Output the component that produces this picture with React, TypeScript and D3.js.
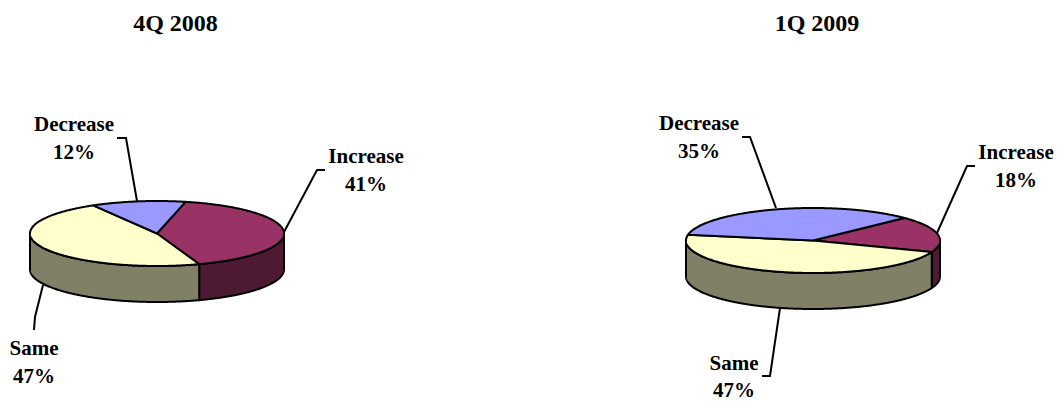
import React from "react";
import * as d3 from "d3";

const categories = ["Increase", "Same", "Decrease"];
const values2008 = [41, 47, 12];
const values2009 = [18, 47, 35];
const topColors = ["#993366", "#ffffcc", "#9999ff"];
const sideColors = ["#4d1933", "#808066", "#4d4d80"];

const WIDTH = 1060;
const HEIGHT = 401;
const RX = 127;
const RY = 32.5;
const DEPTH = 36;
const RAD = Math.PI / 180;

type Pt = [number, number];
type Callout = { x: number; y: number; gap: number; leader: Pt[] };
type Panel = {
  title: string;
  titleX: number;
  cx: number;
  cy: number;
  startDeg: number;
  values: number[];
  callouts: Callout[];
};

const panels: Panel[] = [
  {
    title: "4Q 2008",
    titleX: 175.5,
    cx: 157,
    cy: 233.5,
    startDeg: 13,
    values: values2008,
    callouts: [
      { x: 366, y: 163, gap: 28, leader: [[325, 170], [317, 170], [284, 232]] },
      { x: 34, y: 355, gap: 28, leader: [[43, 285], [35, 317], [34, 330]] },
      { x: 74, y: 131, gap: 28, leader: [[117, 138], [126, 138], [137, 201]] },
    ],
  },
  {
    title: "1Q 2009",
    titleX: 817,
    cx: 813,
    cy: 240.5,
    startDeg: 46,
    values: values2009,
    callouts: [
      { x: 1016, y: 159, gap: 28, leader: [[975, 166], [967, 166], [937, 233]] },
      { x: 734, y: 369.5, gap: 27, leader: [[780, 308], [770, 376], [762, 376]] },
      { x: 699, y: 130, gap: 28, leader: [[742, 137], [750, 137], [776, 208]] },
    ],
  },
];

const line = d3.line<Pt>();

function rimPoints(cx: number, cy: number, a0: number, a1: number): Pt[] {
  const n = Math.max(2, Math.ceil(Math.abs(a1 - a0) / (0.5 * RAD)));
  const t = d3.scaleLinear().domain([0, n]).range([a0, a1]);
  return d3.range(n + 1).map((i): Pt => {
    const a = t(i);
    return [cx + RX * Math.sin(a), cy - RY * Math.cos(a)];
  });
}

function Pie3D({ panel }: { panel: Panel }) {
  const { cx, cy, startDeg, values } = panel;
  const arcs = d3
    .pie<number>()
    .sort(null)
    .startAngle(startDeg * RAD)
    .endAngle((startDeg + 360) * RAD)(values);

  // Only the portion of each slice facing the viewer shows a wall.
  const near0 = Math.PI / 2;
  const near1 = (3 * Math.PI) / 2;
  const walls = arcs.flatMap((arc, i) =>
    [0, 2 * Math.PI].flatMap((shift) => {
      const a0 = Math.max(arc.startAngle - shift, near0);
      const a1 = Math.min(arc.endAngle - shift, near1);
      if (a1 <= a0) return [];
      const top = rimPoints(cx, cy, a0, a1);
      const bottom = top.map(([x, y]): Pt => [x, y + DEPTH]).reverse();
      return [{ i, d: line([...top, ...bottom]) + "Z" }];
    }),
  );

  return (
    <g>
      {walls.map((w, k) => (
        <path key={k} d={w.d} fill={sideColors[w.i]} stroke="#000" strokeWidth={2} strokeLinejoin="round" />
      ))}
      {arcs.map((arc, i) => (
        <path
          key={i}
          d={line([[cx, cy], ...rimPoints(cx, cy, arc.startAngle, arc.endAngle)]) + "Z"}
          fill={topColors[i]}
          stroke="#000"
          strokeWidth={2}
          strokeLinejoin="round"
        />
      ))}
      {panel.callouts.map((c, i) => (
        <g key={i}>
          <path d={line(c.leader) ?? ""} fill="none" stroke="#000" strokeWidth={2} />
          <text x={c.x} y={c.y} textAnchor="middle">
            {categories[i]}
          </text>
          <text x={c.x} y={c.y + c.gap} textAnchor="middle">
            {values[i]}%
          </text>
        </g>
      ))}
      <text x={panel.titleX} y={31} textAnchor="middle" fontSize={24}>
        {panel.title}
      </text>
    </g>
  );
}

export default function App() {
  return (
    <svg
      width={WIDTH}
      height={HEIGHT}
      viewBox={`0 0 ${WIDTH} ${HEIGHT}`}
      style={{ position: "absolute", left: 0, top: 0, background: "#fff" }}
      fontFamily="'Liberation Serif', serif"
      fontWeight="bold"
      fontSize={21}
      fill="#000"
    >
      {panels.map((p) => (
        <Pie3D key={p.title} panel={p} />
      ))}
    </svg>
  );
}
